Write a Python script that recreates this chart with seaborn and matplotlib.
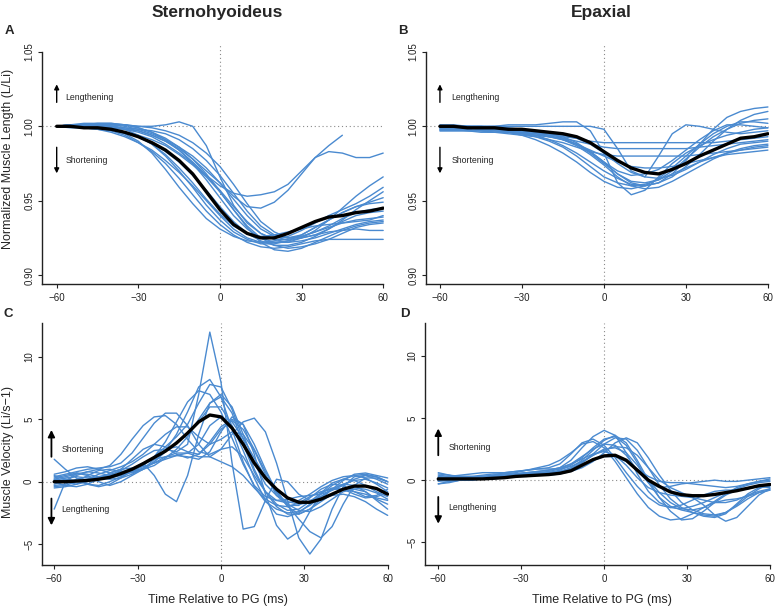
# Muscle length and velocity around PG: Sternohyoideus vs Epaxial
import numpy as np
import pandas as pd
import matplotlib
matplotlib.use("Agg")
import matplotlib.pyplot as plt
import seaborn as sns

nan = np.nan

# ------------------------------------------------------------
# Time grids (ms relative to PG)
# ------------------------------------------------------------
time_len = [-60, -55, -50, -45, -40, -35, -30, -25, -20, -15, -10, -5, 0,
            5, 10, 15, 20, 25, 30, 35, 40, 45, 50, 55, 60]
time_vel = [-60, -56, -52, -48, -44, -40, -36, -32, -28, -24, -20, -16, -12,
            -8, -4, 0, 4, 8, 12, 16, 20, 24, 28, 32, 36, 40, 44, 48, 52, 56, 60]

# ------------------------------------------------------------
# Panel A: Sternohyoideus normalized length
# ------------------------------------------------------------
sh_len_mean = [1.000, 1.000, 0.999, 0.999, 0.998, 0.996, 0.993, 0.989, 0.984, 0.977, 0.968, 0.956, 0.944,
               0.934, 0.928, 0.925, 0.925, 0.928, 0.932, 0.936, 0.939, 0.940, 0.942, 0.943, 0.945]
sh_len_trials = [
    [1.000, 1.001, 1.001, 1.000, 0.998, 0.995, 0.990, 0.982, 0.971, 0.959, 0.948, 0.938, 0.931, 0.926, 0.923, 0.922, 0.922, 0.923, 0.925, 0.927, 0.929, 0.930, 0.931, 0.930, 0.930],
    [1.000, 1.000, 1.000, 0.999, 0.997, 0.994, 0.989, 0.983, 0.975, 0.965, 0.954, 0.943, 0.934, 0.927, 0.922, 0.919, 0.918, 0.919, 0.921, 0.923, 0.924, 0.924, 0.924, 0.924, 0.924],
    [1.000, 1.001, 1.001, 1.001, 1.000, 0.998, 0.994, 0.988, 0.980, 0.970, 0.959, 0.947, 0.937, 0.929, 0.924, 0.921, 0.921, 0.923, 0.927, 0.932, 0.937, 0.942, 0.946, 0.949, 0.952],
    [1.000, 1.000, 1.001, 1.001, 1.001, 1.001, 1.000, 1.000, 1.001, 1.003, 1.000, 0.987, 0.966, 0.947, 0.935, 0.928, 0.924, 0.924, 0.926, 0.929, 0.932, 0.935, 0.937, 0.938, 0.939],
    [1.000, 1.000, 0.999, 0.999, 0.998, 0.996, 0.993, 0.989, 0.983, 0.976, 0.967, 0.957, 0.946, 0.936, 0.928, 0.923, 0.920, 0.920, 0.922, 0.926, 0.931, 0.937, 0.944, 0.950, 0.956],
    [1.000, 1.001, 1.001, 1.002, 1.002, 1.001, 0.999, 0.996, 0.991, 0.984, 0.975, 0.964, 0.952, 0.940, 0.931, 0.925, 0.922, 0.922, 0.925, 0.930, 0.937, 0.945, 0.953, 0.960, 0.966],
    [1.000, 1.000, 1.000, 1.000, 0.999, 0.998, 0.997, 0.994, 0.990, 0.984, 0.976, 0.967, 0.957, 0.946, 0.936, 0.928, 0.924, 0.922, 0.923, 0.925, 0.928, 0.931, 0.934, 0.936, 0.937],
    [1.000, 0.999, 0.999, 0.998, 0.997, 0.996, 0.994, 0.991, 0.987, 0.981, 0.974, 0.966, 0.956, 0.944, 0.932, 0.922, 0.917, 0.916, 0.918, 0.922, 0.926, 0.930, 0.933, 0.935, 0.936],
    [1.000, 1.000, 1.001, 1.001, 1.001, 1.000, 0.998, 0.995, 0.991, 0.986, 0.980, 0.972, 0.962, 0.951, 0.940, 0.931, 0.926, 0.925, 0.927, 0.932, 0.937, 0.942, 0.946, 0.948, 0.949],
    [1.000, 1.000, 1.000, 1.000, 1.000, 0.999, 0.998, 0.997, 0.995, 0.991, 0.985, 0.977, 0.967, 0.955, 0.943, 0.933, 0.927, 0.925, 0.926, 0.929, 0.933, 0.938, 0.942, 0.944, 0.945],
    [1.000, 1.001, 1.001, 1.001, 1.001, 1.001, 1.000, 0.999, 0.997, 0.994, 0.989, 0.982, 0.973, 0.961, 0.948, 0.936, 0.929, 0.925, 0.925, 0.927, 0.931, 0.936, 0.940, 0.942, 0.943],
    [1.000, 1.000, 0.999, 0.998, 0.996, 0.993, 0.989, 0.984, 0.977, 0.969, 0.960, 0.950, 0.940, 0.931, 0.925, 0.922, 0.923, 0.926, 0.930, 0.935, 0.940, 0.944, 0.948, 0.953, 0.959],
    [1.000, 1.000, 1.000, 0.999, 0.998, 0.996, 0.993, 0.988, 0.981, 0.972, 0.962, 0.951, 0.941, 0.933, 0.928, 0.926, 0.927, 0.929, 0.931, 0.933, 0.934, 0.935, 0.936, 0.937, 0.940],
    [1.000, 1.001, 1.002, 1.002, 1.002, 1.001, 0.999, 0.996, 0.992, 0.986, 0.978, 0.968, 0.956, 0.944, 0.933, 0.925, 0.920, 0.918, 0.919, 0.921, 0.924, 0.928, 0.932, 0.934, 0.935],
    [1.000, 1.000, 1.001, 1.001, 1.000, 0.999, 0.997, 0.994, 0.990, 0.985, 0.978, 0.970, 0.962, 0.953, 0.946, 0.945, 0.949, 0.957, 0.968, 0.979, 0.987, 0.994, nan, nan, nan],
    [1.000, 1.000, 1.000, 1.000, 0.999, 0.998, 0.996, 0.993, 0.988, 0.982, 0.975, 0.967, 0.960, 0.955, 0.953, 0.954, 0.956, 0.961, 0.970, 0.979, 0.983, 0.982, 0.979, 0.979, 0.982],
]

# ------------------------------------------------------------
# Panel B: Epaxial normalized length
# ------------------------------------------------------------
ep_len_mean = [1.000, 1.000, 0.999, 0.999, 0.999, 0.998, 0.998, 0.997, 0.996, 0.995, 0.993, 0.989, 0.983,
               0.977, 0.972, 0.969, 0.968, 0.971, 0.975, 0.980, 0.984, 0.988, 0.992, 0.993, 0.995]
ep_len_trials = [
    [1.000, 1.000, 1.000, 1.000, 1.000, 1.001, 1.001, 1.001, 1.002, 1.003, 1.003, 0.997, 0.982, 0.962, 0.954, 0.957, 0.966, 0.975, 0.982, 0.987, 0.991, 0.994, 0.996, 0.998, 0.999],
    [1.000, 1.000, 1.000, 1.000, 1.000, 1.000, 1.000, 1.000, 1.000, 1.000, 1.000, 1.000, 0.998, 0.985, 0.970, 0.966, 0.980, 0.995, 1.001, 1.000, 0.998, 0.996, 0.995, 0.996, 0.997],
    [0.999, 0.999, 0.999, 0.998, 0.998, 0.997, 0.996, 0.995, 0.993, 0.991, 0.988, 0.983, 0.976, 0.968, 0.962, 0.960, 0.962, 0.968, 0.977, 0.988, 0.998, 1.006, 1.010, 1.012, 1.013],
    [1.000, 1.000, 0.999, 0.999, 0.998, 0.997, 0.996, 0.994, 0.991, 0.987, 0.982, 0.976, 0.970, 0.965, 0.961, 0.960, 0.962, 0.966, 0.973, 0.981, 0.990, 0.998, 1.004, 1.008, 1.010],
    [0.998, 0.998, 0.998, 0.997, 0.997, 0.996, 0.995, 0.993, 0.990, 0.986, 0.980, 0.973, 0.966, 0.962, 0.960, 0.961, 0.964, 0.970, 0.978, 0.986, 0.993, 0.998, 1.002, 1.004, 1.005],
    [0.999, 0.999, 0.999, 0.998, 0.998, 0.997, 0.996, 0.995, 0.994, 0.993, 0.992, 0.990, 0.989, 0.989, 0.989, 0.989, 0.989, 0.989, 0.989, 0.989, 0.989, 0.990, 0.991, 0.992, 0.993],
    [0.998, 0.998, 0.997, 0.997, 0.996, 0.996, 0.995, 0.994, 0.993, 0.992, 0.990, 0.988, 0.986, 0.985, 0.985, 0.985, 0.985, 0.985, 0.985, 0.986, 0.987, 0.988, 0.989, 0.990, 0.991],
    [0.997, 0.997, 0.997, 0.996, 0.996, 0.995, 0.994, 0.993, 0.991, 0.989, 0.986, 0.983, 0.981, 0.980, 0.980, 0.980, 0.980, 0.980, 0.980, 0.981, 0.982, 0.983, 0.984, 0.986, 0.987],
    [1.000, 1.000, 1.000, 0.999, 0.999, 0.998, 0.997, 0.996, 0.994, 0.991, 0.987, 0.981, 0.974, 0.966, 0.960, 0.958, 0.959, 0.963, 0.968, 0.973, 0.978, 0.982, 0.985, 0.987, 0.988],
    [1.001, 1.001, 1.000, 1.000, 0.999, 0.999, 0.998, 0.997, 0.995, 0.992, 0.988, 0.982, 0.975, 0.968, 0.963, 0.962, 0.964, 0.968, 0.972, 0.976, 0.979, 0.982, 0.984, 0.985, 0.986],
    [0.999, 0.999, 0.999, 0.998, 0.998, 0.998, 0.997, 0.996, 0.995, 0.994, 0.992, 0.988, 0.982, 0.975, 0.969, 0.966, 0.965, 0.967, 0.971, 0.976, 0.981, 0.985, 0.988, 0.989, 0.990],
    [1.000, 0.999, 0.999, 0.998, 0.997, 0.996, 0.994, 0.991, 0.987, 0.982, 0.976, 0.969, 0.963, 0.959, 0.958, 0.960, 0.965, 0.972, 0.980, 0.988, 0.995, 1.000, 1.003, 1.003, 1.002],
    [0.999, 0.999, 0.999, 0.998, 0.998, 0.997, 0.997, 0.996, 0.995, 0.993, 0.989, 0.983, 0.976, 0.970, 0.967, 0.968, 0.971, 0.977, 0.984, 0.991, 0.997, 1.001, 1.001, 1.000, 0.999],
    [0.997, 0.997, 0.997, 0.997, 0.996, 0.996, 0.995, 0.994, 0.993, 0.991, 0.988, 0.984, 0.980, 0.976, 0.973, 0.972, 0.972, 0.973, 0.975, 0.977, 0.979, 0.981, 0.982, 0.983, 0.984],
]

# ------------------------------------------------------------
# Panel C: Sternohyoideus velocity
# ------------------------------------------------------------
sh_vel_mean = [0.0, 0.0, 0.05, 0.1, 0.2, 0.35, 0.65, 1.0, 1.45, 1.95, 2.45, 3.1, 3.9, 4.8, 5.35, 5.2,
               4.3, 3.0, 1.5, 0.3, -0.6, -1.3, -1.65, -1.65, -1.4, -1.0, -0.6, -0.35, -0.35, -0.55, -1.0]
sh_vel_trials = [
    [0.3, 0.5, 0.7, 0.6, 0.4, 0.5, 0.9, 1.4, 2.0, 2.5, 2.6, 2.4, 3.0, 7.0, 12.0, 8.0, 1.5, -3.8, -3.6, -1.5, 0.2, 0.0, -1.0, -1.5, -1.2, -0.6, -0.2, -0.3, -0.8, -1.4, -1.8],
    [0.2, 0.4, 0.6, 0.8, 0.7, 0.5, 0.6, 1.0, 1.5, 0.5, -1.0, -1.6, 0.5, 3.8, 6.3, 6.8, 5.5, 3.0, 0.8, -0.8, -1.8, -2.3, -2.2, -1.6, -0.9, -0.5, -0.6, -1.0, -1.3, -1.2, -0.9],
    [-0.3, -0.2, 0.2, 0.4, 0.3, 0.2, 0.3, 0.6, 1.0, 1.6, 2.5, 3.8, 5.6, 7.6, 8.2, 6.8, 4.2, 1.6, -0.4, -1.6, -2.2, -2.5, -2.4, -1.9, -1.2, -0.6, -0.2, 0.1, 0.2, -0.1, -0.5],
    [0.0, -0.3, -0.4, -0.2, 0.2, 0.7, 1.0, 1.1, 1.3, 2.0, 3.2, 4.8, 6.4, 7.3, 7.0, 5.6, 3.5, 1.4, -0.3, -1.2, -1.5, -1.4, -1.2, -1.1, -1.0, -0.7, -0.3, 0.2, 0.5, 0.4, 0.0],
    [0.4, 0.6, 0.8, 1.0, 1.1, 1.2, 1.5, 2.3, 3.5, 4.7, 5.5, 5.5, 4.5, 3.0, 2.0, 1.6, 1.2, 0.5, -0.5, -1.4, -1.9, -2.0, -1.7, -1.2, -0.8, -0.6, -0.6, -0.8, -1.0, -1.3, -1.5],
    [-0.2, 0.1, 0.5, 0.8, 1.0, 1.3, 2.2, 3.4, 4.5, 5.2, 5.3, 4.6, 3.4, 2.4, 2.2, 2.6, 2.8, 2.0, 0.5, -0.8, -1.5, -1.7, -1.5, -1.0, -0.4, 0.1, 0.4, 0.5, 0.3, -0.2, -0.8],
    [0.5, 0.2, 0.0, 0.1, 0.4, 0.6, 0.8, 1.0, 1.2, 1.5, 1.8, 2.1, 2.0, 1.8, 2.4, 4.0, 5.2, 4.6, 2.2, -1.0, -3.5, -4.6, -4.0, -2.4, -0.9, -0.1, 0.2, 0.1, -0.3, -0.8, -1.2],
    [0.1, 0.3, 0.4, 0.3, 0.2, 0.3, 0.5, 0.8, 1.1, 1.5, 2.0, 2.3, 2.3, 2.0, 2.0, 2.6, 3.8, 4.8, 5.1, 4.0, 1.5, -1.5, -4.5, -5.8, -4.6, -2.2, -0.4, 0.4, 0.5, 0.2, -0.2],
    [-0.4, -0.3, 0.0, 0.5, 0.9, 1.0, 0.8, 0.7, 1.0, 1.8, 2.6, 2.8, 2.4, 2.2, 3.0, 4.2, 4.9, 4.2, 2.6, 0.8, -0.7, -1.9, -3.0, -4.0, -4.5, -3.6, -1.8, -0.3, 0.3, 0.3, 0.0],
    [0.0, 0.2, 0.1, -0.2, -0.3, 0.0, 0.4, 0.8, 1.0, 1.3, 1.9, 2.6, 3.6, 5.0, 6.3, 7.0, 6.0, 3.8, 1.5, -0.2, -1.1, -1.6, -1.8, -1.7, -1.4, -1.1, -1.0, -1.2, -1.6, -2.2, -2.7],
    [-2.2, 0.0, 0.7, 0.5, 0.0, -0.3, 0.0, 0.5, 1.0, 1.6, 2.4, 3.2, 3.8, 4.8, 6.0, 6.0, 4.5, 2.5, 0.3, -1.5, -2.6, -2.8, -2.5, -1.8, -1.0, -0.3, 0.2, 0.5, 0.6, 0.4, 0.0],
    [1.8, 1.0, 0.3, -0.2, -0.4, -0.2, 0.3, 0.9, 1.4, 1.8, 2.0, 2.1, 2.3, 3.0, 4.5, 5.2, 4.8, 3.5, 1.9, 0.4, -0.9, -1.8, -2.3, -2.4, -2.0, -1.4, -0.8, -0.6, -0.8, -1.5, -2.2],
    [0.2, 0.0, -0.2, 0.0, 0.3, 0.5, 0.6, 0.8, 1.3, 2.0, 2.8, 3.6, 4.6, 6.3, 7.8, 7.6, 5.8, 3.4, 1.0, -0.8, -2.0, -2.6, -2.6, -2.2, -1.6, -1.0, -0.6, -0.5, -0.6, -0.9, -1.4],
    [0.6, 0.8, 1.1, 1.2, 1.0, 0.7, 1.0, 1.8, 2.6, 3.0, 2.8, 2.2, 1.9, 2.2, 3.2, 4.4, 5.0, 4.6, 3.0, 1.0, -0.8, -2.0, -2.6, -2.2, -1.4, -0.6, 0.1, 0.6, 0.7, 0.5, 0.3],
    [-0.5, -0.4, -0.2, 0.2, 0.6, 0.9, 1.2, 1.6, 2.2, 3.0, 3.8, 4.4, 4.4, 3.6, 3.0, 3.4, 4.0, 3.8, 2.5, 0.6, -1.1, -1.9, -1.9, -1.3, -0.6, -0.2, -0.3, -0.8, -1.2, -1.1, -0.6],
]

# ------------------------------------------------------------
# Panel D: Epaxial velocity
# ------------------------------------------------------------
ep_vel_mean = [0.1, 0.1, 0.1, 0.1, 0.1, 0.15, 0.2, 0.3, 0.35, 0.4, 0.45, 0.55, 0.75, 1.2, 1.65, 1.95,
               2.0, 1.6, 0.8, 0.0, -0.5, -0.95, -1.17, -1.25, -1.25, -1.15, -1.0, -0.85, -0.65, -0.45, -0.35]
ep_vel_trials = [
    [0.3, 0.2, 0.2, 0.2, 0.3, 0.3, 0.4, 0.5, 0.6, 0.7, 0.8, 1.0, 1.6, 2.6, 3.5, 4.0, 3.6, 2.2, 0.5, -0.9, -1.8, -2.2, -2.3, -2.1, -1.8, -1.4, -1.0, -0.7, -0.4, -0.2, -0.1],
    [0.6, 0.4, 0.2, 0.1, 0.2, 0.4, 0.5, 0.6, 0.8, 0.9, 1.0, 1.3, 2.1, 3.0, 3.3, 2.8, 1.8, 0.6, -0.5, -1.4, -2.0, -2.2, -2.0, -1.6, -1.2, -0.9, -0.8, -0.8, -0.7, -0.5, -0.4],
    [-0.3, -0.2, 0.0, 0.2, 0.3, 0.3, 0.3, 0.4, 0.5, 0.5, 0.6, 0.7, 1.0, 1.6, 2.4, 3.2, 3.6, 3.0, 1.6, 0.0, -1.4, -2.5, -3.2, -3.1, -2.5, -1.8, -1.2, -0.8, -0.6, -0.5, -0.6],
    [0.1, 0.2, 0.3, 0.3, 0.2, 0.2, 0.3, 0.5, 0.6, 0.6, 0.6, 0.7, 0.9, 1.4, 2.1, 2.9, 3.4, 3.3, 2.4, 1.0, -0.4, -1.5, -2.2, -2.6, -2.9, -3.0, -2.7, -1.9, -1.1, -0.6, -0.5],
    [0.4, 0.3, 0.2, 0.2, 0.3, 0.4, 0.6, 0.7, 0.8, 0.9, 0.9, 0.9, 1.1, 1.5, 2.0, 2.4, 2.7, 2.6, 2.0, 1.0, 0.0, -0.6, -1.0, -1.4, -2.0, -2.8, -3.3, -3.0, -2.1, -1.2, -0.7],
    [-0.1, 0.0, 0.1, 0.2, 0.2, 0.3, 0.4, 0.4, 0.5, 0.6, 0.7, 0.9, 1.3, 1.9, 2.5, 2.9, 2.8, 2.0, 0.8, -0.2, -0.6, -0.5, -0.3, -0.2, -0.1, 0.0, -0.1, -0.1, 0.0, 0.1, 0.2],
    [0.0, 0.1, 0.1, 0.1, 0.1, 0.2, 0.2, 0.3, 0.4, 0.5, 0.5, 0.6, 0.9, 1.4, 2.0, 2.5, 2.6, 2.2, 1.2, 0.0, -1.0, -1.8, -2.3, -2.4, -2.2, -1.7, -1.1, -0.6, -0.3, -0.1, 0.0],
    [0.2, 0.3, 0.4, 0.5, 0.6, 0.6, 0.6, 0.7, 0.8, 1.0, 1.2, 1.6, 2.2, 2.9, 3.1, 2.6, 1.5, 0.2, -1.1, -2.2, -2.9, -3.2, -3.1, -2.7, -2.2, -1.8, -1.6, -1.5, -1.3, -1.0, -0.8],
    [0.0, -0.1, 0.0, 0.1, 0.2, 0.2, 0.3, 0.3, 0.3, 0.4, 0.4, 0.5, 0.7, 1.0, 1.5, 2.2, 3.0, 3.4, 3.0, 1.8, 0.4, -0.8, -1.8, -2.4, -2.7, -2.8, -2.6, -2.1, -1.5, -1.0, -0.8],
    [0.5, 0.4, 0.3, 0.3, 0.4, 0.5, 0.5, 0.5, 0.6, 0.7, 0.8, 1.0, 1.3, 1.7, 2.1, 2.3, 2.0, 1.2, 0.2, -0.6, -1.0, -1.2, -1.3, -1.4, -1.6, -1.8, -1.8, -1.6, -1.2, -0.9, -0.7],
    [-0.3, -0.1, 0.0, 0.0, 0.1, 0.1, 0.2, 0.3, 0.4, 0.5, 0.6, 0.8, 1.2, 1.8, 2.6, 3.3, 3.5, 2.8, 1.4, -0.2, -1.4, -2.1, -2.4, -2.6, -2.8, -2.9, -2.6, -2.0, -1.3, -0.7, -0.3],
    [0.2, 0.1, 0.0, 0.0, 0.1, 0.2, 0.3, 0.3, 0.4, 0.4, 0.5, 0.6, 0.8, 1.2, 1.6, 1.9, 1.9, 1.5, 0.9, 0.3, -0.1, -0.2, -0.2, -0.3, -0.4, -0.5, -0.6, -0.5, -0.3, -0.1, 0.1],
]

x_ticks = [-60, -30, 0, 30, 60]
len_ticks = [0.90, 0.95, 1.00, 1.05]
len_labels = ["0.90", "0.95", "1.00", "1.05"]
vel_ticks = [-5, 0, 5, 10]
vel_labels = ["\u22125", "0", "5", "10"]

BLUE = "#4a8ad0"
W, H = 780, 607


def long_form(time, trials):
    rows = []
    for i, trial in enumerate(trials):
        assert len(trial) == len(time)
        for t, v in zip(time, trial):
            if not np.isnan(v):
                rows.append((i, t, v))
    return pd.DataFrame(rows, columns=["trial", "time", "value"])


def px_rect(left, right, top, bottom):
    return [left / W, 1 - bottom / H, (right - left) / W, (bottom - top) / H]


sns.set_style("ticks")
plt.rcParams["font.family"] = ["Liberation Sans", "DejaVu Sans"]

fig = plt.figure(figsize=(7.8, 6.07), dpi=100)

panels = [
    # rect, xlim, ylim, left spine top, time, trials, mean, ref line
    dict(rect=px_rect(42, 384, 43, 284), xlim=(-65.4, 60.3), ylim=(0.894, 1.056), stop=1.05,
         time=time_len, trials=sh_len_trials, mean=sh_len_mean, ref=1.0,
         ticks=len_ticks, labels=len_labels),
    dict(rect=px_rect(426, 769, 43, 284), xlim=(-65.1, 60.4), ylim=(0.894, 1.056), stop=1.05,
         time=time_len, trials=ep_len_trials, mean=ep_len_mean, ref=1.0,
         ticks=len_ticks, labels=len_labels),
    dict(rect=px_rect(41.7, 388.5, 323, 565), xlim=(-64.5, 60.3), ylim=(-6.68, 12.73), stop=12.73,
         time=time_vel, trials=sh_vel_trials, mean=sh_vel_mean, ref=0.0,
         ticks=vel_ticks, labels=vel_labels),
    dict(rect=px_rect(425, 770.5, 323, 565), xlim=(-64.8, 60.2), ylim=(-6.82, 12.63), stop=12.63,
         time=time_vel, trials=ep_vel_trials, mean=ep_vel_mean, ref=0.0,
         ticks=vel_ticks, labels=vel_labels),
]

axes = []
for p in panels:
    ax = fig.add_axes(p["rect"])
    df = long_form(p["time"], p["trials"])
    sns.lineplot(data=df, x="time", y="value", units="trial", estimator=None,
                 color=BLUE, lw=1.0, legend=False, ax=ax, zorder=2)
    sns.lineplot(x=p["time"], y=p["mean"], color="black", lw=2.4, ax=ax, zorder=3)

    ax.axvline(0, color="#8a8a8a", ls=(0, (1, 2.5)), lw=0.8, zorder=1)
    ax.axhline(p["ref"], color="#8a8a8a", ls=(0, (1, 2.5)), lw=0.8, zorder=1)

    ax.set_xlim(p["xlim"])
    ax.set_ylim(p["ylim"])
    ax.set_xticks(x_ticks)
    ax.set_xticklabels(["\u221260", "\u221230", "0", "30", "60"])
    ax.set_yticks(p["ticks"])
    ax.set_yticklabels(p["labels"])
    ax.set_xlabel("")
    ax.set_ylabel("")

    sns.despine(ax=ax)
    for side in ["left", "bottom"]:
        ax.spines[side].set_linewidth(1.0)
        ax.spines[side].set_color("#222222")
    ax.spines["left"].set_bounds(p["ylim"][0], p["stop"])
    ax.spines["bottom"].set_bounds(p["xlim"][0], 60)
    ax.tick_params(axis="both", length=3, width=0.8, labelsize=7, colors="#222222")
    ax.tick_params(axis="x", pad=3.5)
    ax.tick_params(axis="y", pad=2.5)
    plt.setp(ax.get_yticklabels(), rotation=90, va="center")
    axes.append(ax)

ax_a, ax_b, ax_c, ax_d = axes

# ------------------------------------------------------------
# Direction arrows and labels
# ------------------------------------------------------------
arrow_small = dict(arrowstyle="-|>", color="black", lw=1.0, mutation_scale=7, shrinkA=0, shrinkB=0)
arrow_big = dict(arrowstyle="-|>", color="black", lw=1.3, mutation_scale=10, shrinkA=0, shrinkB=0)

for ax, tx in [(ax_a, -56.7), (ax_b, -55.7)]:
    ax.annotate("", xy=(-60, 1.0282), xytext=(-60, 1.0161), arrowprops=arrow_small)
    ax.annotate("", xy=(-60, 0.9684), xytext=(-60, 0.9859), arrowprops=arrow_small)
    ax.text(tx, 1.0195, "Lengthening", fontsize=6.3, va="center", ha="left")
    ax.text(tx, 0.9771, "Shortening", fontsize=6.3, va="center", ha="left")

for ax, ax_x, tx in [(ax_c, -61, -57.3), (ax_d, -60, -56.4)]:
    ax.annotate("", xy=(ax_x, 4.15), xytext=(ax_x, 2.0), arrowprops=arrow_big)
    ax.annotate("", xy=(ax_x, -3.5), xytext=(ax_x, -1.35), arrowprops=arrow_big)
    ax.text(tx, 2.6, "Shortening", fontsize=6.3, va="center", ha="left")
    ax.text(tx, -2.2, "Lengthening", fontsize=6.3, va="center", ha="left")

# ------------------------------------------------------------
# Axis labels, titles, panel letters
# ------------------------------------------------------------
ax_a.set_ylabel("Normalized Muscle Length (L/Li)", fontsize=9)
ax_a.yaxis.set_label_coords(-0.099, 0.521)
ax_a.yaxis.label.set_va("center")

ax_c.set_ylabel("Muscle Velocity (Li/s\u22121)", fontsize=9)
ax_c.yaxis.set_label_coords(-0.097, 0.467)
ax_c.yaxis.label.set_va("center")

for ax, xf in [(ax_c, 0.509), (ax_d, 0.512)]:
    ax.set_xlabel("Time Relative to PG (ms)", fontsize=9)
    ax.xaxis.set_label_coords(xf, -0.155)
    ax.xaxis.label.set_va("baseline")

fig.text(217.5 / W, 1 - 16.7 / H, "Sternohyoideus", fontsize=12.5, fontweight="bold",
         ha="center", va="baseline")
fig.text(601.7 / W, 1 - 16.7 / H, "Epaxial", fontsize=12.5, fontweight="bold",
         ha="center", va="baseline")

for letter, lx, ly in [("A", 5, 34), ("B", 398, 34), ("C", 4, 316.7), ("D", 400, 316.7)]:
    fig.text(lx / W, 1 - ly / H, letter, fontsize=9.5, fontweight="bold",
             ha="left", va="baseline")

fig.savefig("out.png", dpi=100)
